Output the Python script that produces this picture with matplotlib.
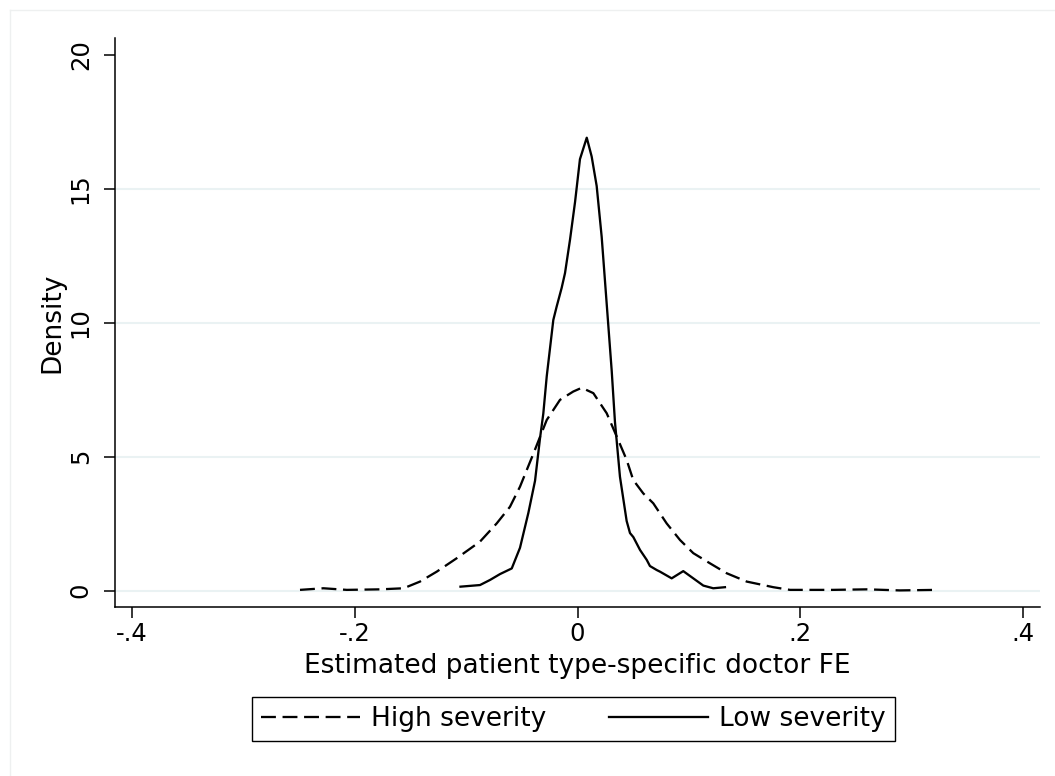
import matplotlib
matplotlib.use("Agg")
import matplotlib.pyplot as plt
from matplotlib.lines import Line2D

# ---- data ----
high_x = [-0.249, -0.228, -0.207, -0.177, -0.156, -0.1413, -0.1263, -0.1084, -0.0875,
          -0.0725, -0.0606, -0.0516, -0.0397, -0.0276, -0.0157, -0.0038, 0.0038, 0.0142,
          0.0262, 0.0352, 0.0441, 0.050, 0.059, 0.068, 0.080, 0.092, 0.1039, 0.1189,
          0.1339, 0.1518, 0.1757, 0.1907, 0.229, 0.260, 0.289, 0.3223]
high_y = [0.03, 0.09, 0.03, 0.05, 0.09, 0.34, 0.71, 1.21, 1.83,
          2.51, 3.13, 3.88, 5.10, 6.37, 7.12, 7.43, 7.57, 7.37,
          6.62, 5.75, 4.88, 4.13, 3.63, 3.26, 2.51, 1.89, 1.40, 1.02,
          0.65, 0.34, 0.13, 0.03, 0.03, 0.05, 0.01, 0.03]

low_x = [-0.105, -0.0875, -0.0785, -0.0695, -0.059, -0.0516, -0.0441, -0.0381, -0.0336,
         -0.0307, -0.0276, -0.0217, -0.0187, -0.0142, -0.0112, -0.0067, -0.0022, 0.0022,
         0.0083, 0.0127, 0.0172, 0.0217, 0.0262, 0.0307, 0.0336, 0.0381, 0.0441, 0.0471,
         0.0501, 0.0561, 0.0621, 0.065, 0.0711, 0.074, 0.0845, 0.0949, 0.1039, 0.1129,
         0.1218, 0.1323]
low_y = [0.15, 0.21, 0.40, 0.62, 0.83, 1.60, 2.90, 4.10, 5.70,
         6.60, 8.00, 10.10, 10.60, 11.30, 11.85, 13.10, 14.50, 16.10,
         16.90, 16.20, 15.10, 13.20, 10.70, 8.20, 6.30, 4.25, 2.60, 2.15,
         2.00, 1.52, 1.15, 0.92, 0.77, 0.71, 0.46, 0.73, 0.46, 0.19,
         0.09, 0.13]

series_labels = ["High severity", "Low severity"]
x_ticks = [-0.4, -0.2, 0, 0.2, 0.4]
x_tick_labels = ["-.4", "-.2", "0", ".2", ".4"]
y_ticks = [0, 5, 10, 15, 20]
y_tick_labels = ["0", "5", "10", "15", "20"]
grid_levels = [0, 5, 10, 15]
x_label = "Estimated patient type-specific doctor FE"
y_label = "Density"

# ---- figure ----
W, H = 1055, 776
fig = plt.figure(figsize=(W / 100, H / 100), dpi=100)
fig.patch.set_facecolor("white")

# faint outer graph-region border
fig.add_artist(Line2D([10 / W, 10 / W], [0, 1 - 10 / H], transform=fig.transFigure,
                      color="#EEF0F0", lw=1.0))
fig.add_artist(Line2D([10 / W, 1], [1 - 10 / H, 1 - 10 / H], transform=fig.transFigure,
                      color="#EEF0F0", lw=1.0))

left, right, bottom, top = 115 / W, 1040 / W, 1 - 607.3 / H, 1 - 38 / H
ax = fig.add_axes([left, bottom, right - left, top - bottom])
ax.set_xlim(-0.415, 0.415)
ax.set_ylim(-0.62, 20.62)

for g in grid_levels:
    ax.axhline(g, color="#EAF2F3", lw=1.5, zorder=0)

lw = 1.65
ax.plot(high_x, high_y, color="black", lw=lw, linestyle=(0, (6.5, 2.9)),
        label=series_labels[0], zorder=3)
ax.plot(low_x, low_y, color="black", lw=lw, linestyle="-",
        label=series_labels[1], zorder=3)

for s in ["top", "right"]:
    ax.spines[s].set_visible(False)
for s in ["left", "bottom"]:
    ax.spines[s].set_linewidth(1.1)
    ax.spines[s].set_color("black")

ax.set_xticks(x_ticks)
ax.set_xticklabels(x_tick_labels)
ax.set_yticks(y_ticks)
ax.set_yticklabels(y_tick_labels, rotation=90, va="center")
ax.tick_params(axis="both", direction="out", length=8, width=1.1, labelsize=17.5,
               colors="black")
ax.tick_params(axis="x", pad=2.5)
ax.tick_params(axis="y", pad=8)

ax.set_xlabel(x_label, fontsize=19, labelpad=5)
ax.set_ylabel(y_label, fontsize=19, labelpad=2.5)

leg = ax.legend(loc="center left", bbox_to_anchor=(252 / W, 1 - 719 / H),
                bbox_transform=fig.transFigure, ncol=2, fontsize=19,
                frameon=True, fancybox=False, edgecolor="black", framealpha=1,
                handlelength=3.75, handletextpad=0.4, columnspacing=2.4,
                borderpad=0.35, borderaxespad=0)
leg.get_frame().set_linewidth(1.0)

fig.savefig("out.png", dpi=100, facecolor="white")
